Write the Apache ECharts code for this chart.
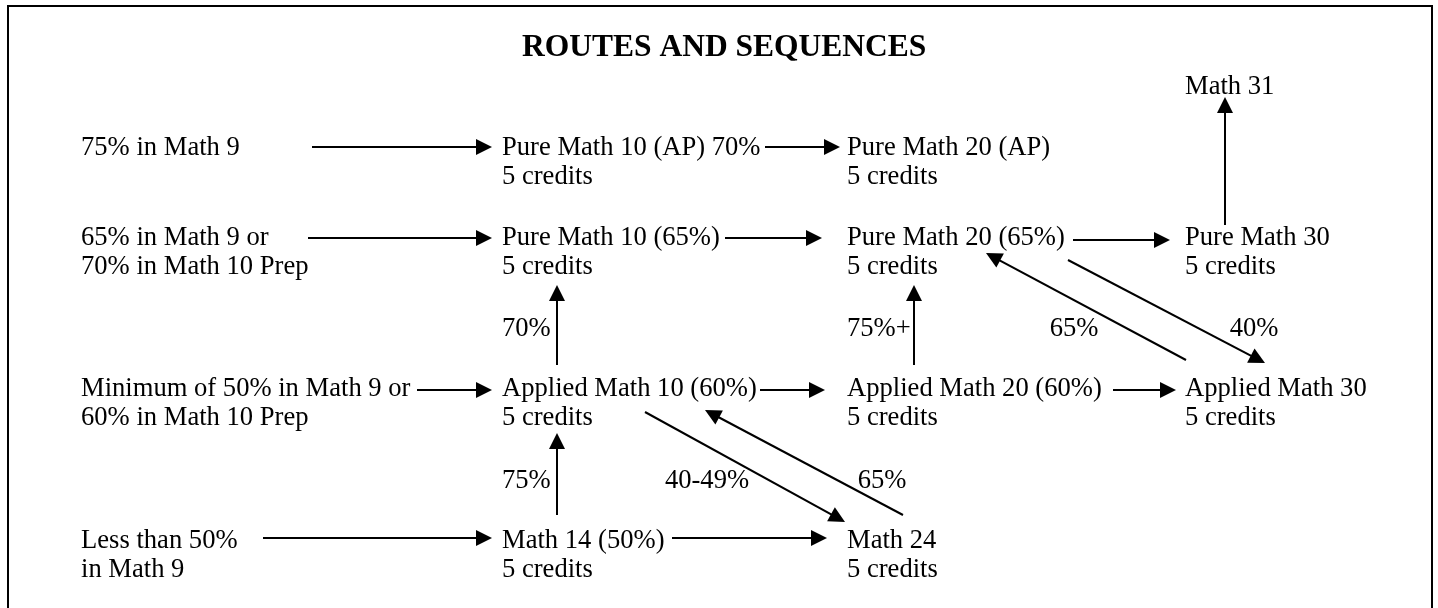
<!DOCTYPE html>
<html>
<head>
<meta charset="utf-8">
<title>Routes and Sequences</title>
<script src="https://cdn.jsdelivr.net/npm/echarts@6/dist/echarts.min.js"></script>
<style>
    html, body { margin: 0; padding: 0; background: #fff; }
    #main { width: 1438px; height: 608px; }
</style>
</head>
<body>
<div id="main"></div>
<script>
// 课程框: 文本 + 所在列/行
var courseText = [
    '75% in Math 9',
    'Pure Math 10 (AP) 70%\n5 credits',
    'Pure Math 20 (AP)\n5 credits',
    'Math 31',
    '65% in Math 9 or\n70% in Math 10 Prep',
    'Pure Math 10 (65%)\n5 credits',
    'Pure Math 20 (65%)\n5 credits',
    'Pure Math 30\n5 credits',
    'Minimum of 50% in Math 9 or\n60% in Math 10 Prep',
    'Applied Math 10 (60%)\n5 credits',
    'Applied Math 20 (60%)\n5 credits',
    'Applied Math 30\n5 credits',
    'Less than 50%\nin Math 9',
    'Math 14 (50%)\n5 credits',
    'Math 24\n5 credits'
];
var courseCol = [0, 1, 2, 3, 0, 1, 2, 3, 0, 1, 2, 3, 0, 1, 2];
var courseRow = [1, 1, 1, 0, 2, 2, 2, 2, 3, 3, 3, 3, 4, 4, 4];
// 列/行在坐标轴上的位置
var colX = [81, 502, 847, 1185];
var rowY = [87, 148, 238, 389, 541];

// 箭头起点/终点(终点为箭头尖)
var arrowFrom = [
    [312, 147], [765, 147], [308, 238], [725, 238], [1073, 240], [1225, 225],
    [557, 365], [914, 365], [1068, 260], [1186, 360],
    [417, 390], [760, 390], [1113, 390],
    [645, 412], [903, 515], [557, 515],
    [263, 538], [672, 538]
];
var arrowTo = [
    [492, 147], [840, 147], [492, 238], [822, 238], [1170, 240], [1225, 97],
    [557, 285], [914, 285], [1265, 363], [986, 253],
    [492, 390], [825, 390], [1176, 390],
    [845, 522], [705, 410], [557, 433],
    [492, 538], [827, 538]
];

// 箭头旁的分数要求
var gradeText = ['70%', '75%+', '65%', '40%', '40-49%', '65%', '75%'];
var gradeX = [502, 847, 1074, 1254, 707, 882, 502];
var gradeY = [329, 329, 329, 329, 481, 481, 481];
var gradeAlign = ['left', 'left', 'center', 'center', 'center', 'center', 'left'];

var FONT = 'Liberation Serif, Times New Roman, serif';
var FONT_SIZE = 26.6;
var LINE_H = 29;
var HEAD = 16;

var chart = echarts.init(document.getElementById('main'));

var courseData = courseText.map(function (t, i) {
    return { name: t, value: [colX[courseCol[i]], rowY[courseRow[i]]] };
});
var gradeData = gradeText.map(function (t, i) {
    return {
        name: t,
        value: [gradeX[i], gradeY[i]],
        label: { align: gradeAlign[i] }
    };
});
// 三角形符号以中心对准终点, 所以终点往回收半个箭头
var arrowData = arrowFrom.map(function (p, i) {
    var q = arrowTo[i];
    var dx = q[0] - p[0], dy = q[1] - p[1];
    var len = Math.sqrt(dx * dx + dy * dy);
    var end = [q[0] - dx / len * HEAD / 2, q[1] - dy / len * HEAD / 2];
    return { coords: [p, end] };
});

var textLabel = {
    show: true,
    formatter: '{b}',
    position: [0, -LINE_H / 2],
    align: 'left',
    verticalAlign: 'top',
    fontFamily: FONT,
    fontSize: FONT_SIZE,
    lineHeight: LINE_H,
    color: '#000'
};

chart.setOption({
    backgroundColor: '#fff',
    animation: false,
    title: {
        text: 'ROUTES AND SEQUENCES',
        left: 517,
        top: 27,
        textStyle: {
            fontFamily: FONT,
            fontWeight: 'bold',
            fontSize: 31.5,
            color: '#000'
        }
    },
    graphic: [
        {
            type: 'rect',
            shape: { x: 8, y: 6, width: 1424, height: 700 },
            style: { fill: 'none', stroke: '#000', lineWidth: 2 },
            silent: true
        }
    ],
    grid: { left: 0, right: 0, top: 0, bottom: 0 },
    xAxis: { type: 'value', min: 0, max: 1438, show: false },
    yAxis: { type: 'value', min: 0, max: 608, inverse: true, show: false },
    series: [
        {
            type: 'lines',
            coordinateSystem: 'cartesian2d',
            symbol: ['none', 'triangle'],
            symbolSize: [0, HEAD],
            lineStyle: { color: '#000', width: 2, opacity: 1, curveness: 0 },
            data: arrowData,
            silent: true,
            z: 2
        },
        {
            type: 'scatter',
            symbolSize: 0,
            itemStyle: { opacity: 1 },
            label: textLabel,
            data: courseData,
            silent: true,
            z: 3
        },
        {
            type: 'scatter',
            symbolSize: 0,
            itemStyle: { opacity: 1 },
            label: textLabel,
            data: gradeData,
            silent: true,
            z: 3
        }
    ]
});
</script>
</body>
</html>
